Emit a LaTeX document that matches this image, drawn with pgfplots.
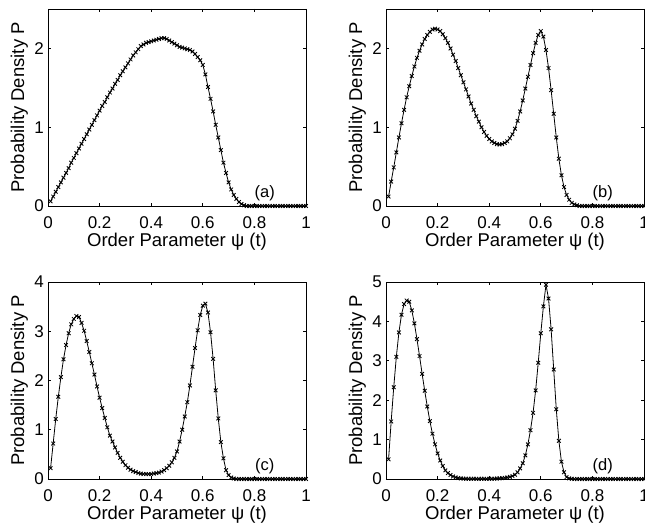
\documentclass[border=0pt]{standalone}
\usepackage{fontspec}
\setmainfont{Liberation Sans}
\usepackage{pgfplots}
\usepackage{pgfplotstable}
\pgfplotsset{compat=1.18}
\pgfplotstableread{
x a b c d
0.01 0.06 0.12 0.22 0.50
0.02 0.12 0.31 0.72 1.46
0.03 0.18 0.49 1.22 2.33
0.04 0.24 0.68 1.67 3.10
0.05 0.30 0.87 2.07 3.72
0.06 0.36 1.05 2.43 4.17
0.07 0.42 1.22 2.72 4.44
0.08 0.48 1.38 2.96 4.53
0.09 0.55 1.52 3.14 4.50
0.10 0.61 1.65 3.25 4.28
0.11 0.67 1.77 3.31 3.95
0.12 0.73 1.88 3.29 3.55
0.13 0.79 1.97 3.17 3.12
0.14 0.85 2.05 3.01 2.67
0.15 0.91 2.12 2.80 2.24
0.16 0.97 2.17 2.58 1.84
0.17 1.03 2.21 2.35 1.47
0.18 1.09 2.24 2.12 1.15
0.19 1.15 2.25 1.88 0.88
0.20 1.21 2.24 1.65 0.65
0.21 1.27 2.22 1.44 0.47
0.22 1.32 2.18 1.24 0.33
0.23 1.38 2.13 1.05 0.22
0.24 1.44 2.07 0.88 0.15
0.25 1.49 2.00 0.76 0.10
0.26 1.55 1.92 0.64 0.065
0.27 1.60 1.84 0.53 0.04
0.28 1.66 1.75 0.43 0.025
0.29 1.71 1.66 0.35 0.015
0.30 1.76 1.57 0.28 0.01
0.31 1.81 1.48 0.23 0.008
0.32 1.86 1.39 0.19 0.007
0.33 1.91 1.30 0.16 0.006
0.34 1.95 1.22 0.14 0.005
0.35 1.99 1.14 0.12 0.005
0.36 2.03 1.07 0.11 0.005
0.37 2.05 1.00 0.10 0.005
0.38 2.07 0.94 0.10 0.005
0.39 2.08 0.89 0.10 0.005
0.40 2.09 0.85 0.10 0.006
0.41 2.10 0.82 0.11 0.007
0.42 2.11 0.80 0.12 0.009
0.43 2.12 0.785 0.13 0.012
0.44 2.13 0.78 0.15 0.016
0.45 2.13 0.785 0.18 0.022
0.46 2.12 0.80 0.22 0.03
0.47 2.10 0.82 0.27 0.04
0.48 2.08 0.86 0.34 0.055
0.49 2.06 0.91 0.43 0.075
0.50 2.04 0.98 0.56 0.11
0.51 2.02 1.08 0.76 0.17
0.52 2.01 1.20 1.00 0.27
0.53 2.00 1.34 1.27 0.40
0.54 1.99 1.49 1.56 0.60
0.55 1.98 1.64 1.90 0.88
0.56 1.96 1.79 2.28 1.24
0.57 1.93 1.94 2.66 1.68
0.58 1.89 2.07 3.02 2.25
0.59 1.85 2.17 3.33 2.95
0.60 1.79 2.22 3.52 3.70
0.61 1.67 2.15 3.56 4.38
0.62 1.51 1.98 3.38 4.93
0.63 1.36 1.75 2.98 4.58
0.64 1.20 1.47 2.44 3.80
0.65 1.03 1.17 1.80 2.78
0.66 0.87 0.87 1.23 1.77
0.67 0.71 0.60 0.75 0.97
0.68 0.55 0.39 0.42 0.44
0.69 0.42 0.24 0.18 0.17
0.70 0.30 0.14 0.08 0.05
0.71 0.21 0.08 0.03 0.015
0.72 0.14 0.04 0.01 0.005
0.73 0.09 0.02 0 0
0.74 0.05 0.01 0 0
0.75 0.025 0 0 0
0.76 0.01 0 0 0
0.77 0 0 0 0
0.78 0 0 0 0
0.79 0 0 0 0
0.80 0 0 0 0
0.81 0 0 0 0
0.82 0 0 0 0
0.83 0 0 0 0
0.84 0 0 0 0
0.85 0 0 0 0
0.86 0 0 0 0
0.87 0 0 0 0
0.88 0 0 0 0
0.89 0 0 0 0
0.90 0 0 0 0
0.91 0 0 0 0
0.92 0 0 0 0
0.93 0 0 0 0
0.94 0 0 0 0
0.95 0 0 0 0
0.96 0 0 0 0
0.97 0 0 0 0
0.98 0 0 0 0
0.99 0 0 0 0
1.00 0 0 0 0
}\data

\pgfplotsset{
  panel/.style={
    scale only axis, width=258pt, height=197pt,
    anchor=south west,
    xmin=0, xmax=1, ymin=0,
    xtick={0,0.2,0.4,0.6,0.8,1},
    xticklabels={0,0.2,0.4,0.6,0.8,1},
    tick align=inside, major tick length=3pt,
    xtick pos=both, ytick pos=both,
    axis line style={line width=0.7pt},
    every tick/.style={black, line width=0.7pt},
    /pgf/number format/assume math mode=true,
    tick label style={font=\fontsize{17}{17}\selectfont},
    xticklabel style={anchor=base, yshift=-22pt},
    yticklabel style={anchor=east, inner sep=0pt, xshift=-4pt},
    xlabel={Order Parameter ψ (t)},
    ylabel={Probability Density P},
    label style={font=\fontsize{18.5}{18.5}\selectfont},
    xlabel style={at={(axis description cs:0.5,-0.208)}, anchor=base},
    ylabel style={at={(axis description cs:-0.093,0.5)}, anchor=base},
    clip=false,
  },
  curve/.style={black, line width=0.8pt, mark=x, mark size=2.6pt,
    mark options={line width=0.85pt}},
}
\tikzset{plab/.style={font=\fontsize{16.5}{16.5}\selectfont, anchor=center}}

\begin{document}
\begin{tikzpicture}
\begin{axis}[panel, at={(48pt,317pt)}, ymax=2.5, ytick={0,1,2}]
\addplot[curve] table[x=x, y=a] {\data};
\node[plab] at (rel axis cs:0.84,0.063) {(a)};
\end{axis}
\begin{axis}[panel, at={(386pt,317pt)}, ymax=2.5, ytick={0,1,2}]
\addplot[curve] table[x=x, y=b] {\data};
\node[plab] at (rel axis cs:0.84,0.063) {(b)};
\end{axis}
\begin{axis}[panel, at={(48pt,44pt)}, ymax=4, ytick={0,1,2,3,4}]
\addplot[curve] table[x=x, y=c] {\data};
\node[plab] at (rel axis cs:0.84,0.063) {(c)};
\end{axis}
\begin{axis}[panel, at={(386pt,44pt)}, ymax=5, ytick={0,1,2,3,4,5}]
\addplot[curve] table[x=x, y=d] {\data};
\node[plab] at (rel axis cs:0.84,0.063) {(d)};
\end{axis}
\pgfresetboundingbox
\path[use as bounding box] (0pt,0pt) rectangle (645pt,523pt);
\end{tikzpicture}
\end{document}
